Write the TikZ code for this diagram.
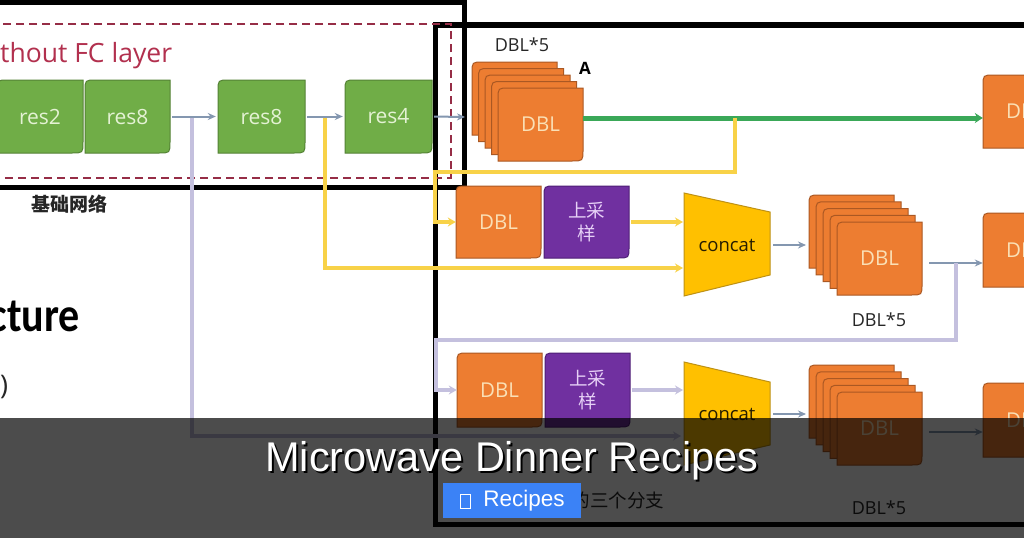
\documentclass[tikz,border=0pt]{standalone}
\usepackage{fontspec}
\usepackage{graphicx}
\setmainfont{Open Sans}
\newfontfamily\cjk{Noto Sans CJK SC}
\newfontfamily\arialf{Liberation Sans}
\newfontfamily\carlito{Carlito}
\usetikzlibrary{arrows.meta}
\definecolor{gfill}{RGB}{112,173,71}
\definecolor{gdraw}{RGB}{84,130,53}
\definecolor{gtext}{RGB}{228,242,212}
\definecolor{ofill}{RGB}{237,125,49}
\definecolor{odraw}{RGB}{170,88,35}
\definecolor{otext}{RGB}{250,224,182}
\definecolor{pfill}{RGB}{112,48,160}
\definecolor{pdraw}{RGB}{78,30,118}
\definecolor{ptext}{RGB}{230,208,246}
\definecolor{yfill}{RGB}{255,192,0}
\definecolor{ydraw}{RGB}{190,145,20}
\definecolor{yline}{RGB}{248,210,72}
\definecolor{lavc}{RGB}{196,192,222}
\definecolor{grayc}{RGB}{132,151,176}
\definecolor{grnc}{RGB}{58,168,88}
\definecolor{marc}{RGB}{150,45,70}
\definecolor{redt}{RGB}{178,48,78}
\definecolor{btnc}{RGB}{59,130,246}
\newcommand{\dshape}[5]{%
  \path[#5] (#1,#4) -- (#1,#2+11) .. controls (#1,#2) .. (#1+11,#2) -- (#3,#2) -- (#3,#4-11) .. controls (#3,#4) .. (#3-11,#4) -- cycle;}
\newcommand{\dblock}[8]{%
  \dshape{#2}{#3}{#4}{#5}{#6}
  \node[#7, minimum width={(#4-#2)*1pt}, minimum height={(#5-#3)*1pt}, inner sep=0pt] (#1) at ({(#2+#4)/2},{(#3+#5)/2}) {#8};}
\tikzset{
  gbox/.style={fill=gfill, draw=gdraw, line width=1pt},
  obox/.style={fill=ofill, draw=odraw, line width=1pt},
  pbox/.style={fill=pfill, draw=pdraw, line width=1pt},
  cbox/.style={fill=yfill, draw=ydraw, line width=1pt},
  gtxt/.style={text=gtext, font=\fontsize{21}{24}\selectfont},
  otxt/.style={text=otext, font=\fontsize{20.5}{24}\selectfont},
  ptxt/.style={text=ptext, font=\cjk\fontsize{18.5}{23}\selectfont, align=center},
  ctxt/.style={text=black!85!yfill, font=\fontsize{18.5}{22}\selectfont},
  lbl/.style={text=black!85, font=\fontsize{18}{22}\selectfont},
  garr/.style={draw=grayc, line width=2pt, -{Stealth[length=8pt,width=7pt]}},
  yarr/.style={draw=yline, line width=4.5pt, -{Stealth[length=8pt,width=9pt]}},
  larr/.style={draw=lavc, line width=4.5pt, -{Stealth[length=8pt,width=9pt]}},
  grarr/.style={draw=grnc, line width=5pt, -{Stealth[length=8pt,width=10pt]}},
  frame/.style={draw=black, line width=5.5pt},
}
\begin{document}
\begin{tikzpicture}[x=1pt,y=-1pt]
\useasboundingbox (0,0) rectangle (1024,538);
\clip (0,0) rectangle (1024,538);
\fill[white] (0,0) rectangle (1024,538);
% frames
\draw[frame] (-10,2.5) rectangle (464.5,187.5);
\draw[frame] (435.5,25) rectangle (1040,524.5);
\draw[marc, line width=1.8pt, dash pattern=on 8pt off 5pt] (-10,24) rectangle (451,178);
% left texts
\node[anchor=base west, text=redt, font=\fontsize{26.5}{30}\selectfont, inner sep=0pt] (fctxt) at (0,62) {thout FC layer};
\node[font=\cjk\bfseries\fontsize{19}{22}\selectfont, text=black!85] (jichu) at (69,204) {基础网络};
\node[anchor=base east, font=\carlito\bfseries\fontsize{42}{48}\selectfont, inner sep=0pt] (cture) at (80,331) {\scalebox{1}[1.15]{cture}};
\node[anchor=base west, font=\fontsize{27}{30}\selectfont, inner sep=0pt, text=black!85] (paren) at (0,394) {)};
% backbone
\dblock{res2}{-3}{80}{83}{153}{gbox}{gtxt}{res2}
\dblock{res8a}{85}{80}{170}{153}{gbox}{gtxt}{res8}
\dblock{res8b}{218}{80}{305}{153}{gbox}{gtxt}{res8}
\dblock{res4}{345}{80}{432}{153}{gbox}{gtxt}{res4}
% top stack
\foreach \i in {4,3,2,1} {\dshape{498-6.5*\i}{88-6.5*\i}{583-6.5*\i}{161-6.5*\i}{obox}}
\dblock{dbl1}{498}{88}{583}{161}{obox}{otxt}{DBL}
\node[lbl] (lab1) at (522,45) {DBL*5};
\node[font=\bfseries\fontsize{17}{20}\selectfont] (labA) at (585,68) {A};
% right boxes
\dblock{rbt}{983}{75}{1068}{148}{obox}{otxt}{DBL}
\dblock{rbm}{983}{213}{1068}{287}{obox}{otxt}{DBL}
\dblock{rbb}{983}{383}{1068}{457}{obox}{otxt}{DBL}
% middle row
\dblock{dblm}{456}{186}{541}{258}{obox}{otxt}{DBL}
\dblock{upm}{544}{186}{629}{258}{pbox}{ptxt}{上采\\样}
\path[cbox] (684,193) -- (770,212) -- (770,275) -- (684,296) -- cycle;
\node[ctxt, minimum width=86pt, minimum height=63pt, inner sep=0pt] (cc1) at (727,245) {concat};
\foreach \i in {4,3,2,1} {\dshape{837-7*\i}{222-6.75*\i}{922-7*\i}{295-6.75*\i}{obox}}
\dblock{dbl2}{837}{222}{922}{295}{obox}{otxt}{DBL}
\node[lbl] (lab2) at (879,320) {DBL*5};
% bottom row
\dblock{dblb}{457}{353}{542}{427}{obox}{otxt}{DBL}
\dblock{upb}{545}{353}{630}{427}{pbox}{ptxt}{上采\\样}
\path[cbox] (684,362) -- (770,382) -- (770,445) -- (684,465) -- cycle;
\node[ctxt, minimum width=86pt, minimum height=63pt, inner sep=0pt] (cc2) at (727,414) {concat};
\foreach \i in {4,3,2,1} {\dshape{837-7*\i}{392-6.75*\i}{922-7*\i}{465-6.75*\i}{obox}}
\dblock{dbl3}{837}{392}{922}{465}{obox}{otxt}{DBL}
\node[lbl] (lab3) at (879,508) {DBL*5};
\node[anchor=east, font=\cjk\fontsize{18.5}{22}\selectfont, text=black!85] (branch) at (668,500) {的三个分支};
% coordinates
\coordinate (lv1) at (192,117);
\coordinate (y2s) at (325,117);
\coordinate (s1in) at (465,117);
\coordinate (g1) at (583,118);
\coordinate (y1s) at (735,118);
\coordinate (yk1) at (435,172);
\coordinate (cc1a) at (683,222);
\coordinate (cc1b) at (683,268);
\coordinate (s2in) at (806,245);
\coordinate (s2out) at (929,263);
\coordinate (lv2) at (956,263);
\coordinate (lk2) at (436,340);
\coordinate (cc2a) at (683,390);
\coordinate (cc2b) at (681,436);
\coordinate (s3in) at (806,414);
\coordinate (s3out) at (929,432);
% connectors
\draw[larr] (lv1) |- (cc2b);
\draw[yarr] (y2s) |- (cc1b);
\draw[garr, shorten <=2pt, shorten >=2pt] (res8a) -- (res8b);
\draw[garr, shorten <=2pt, shorten >=2pt] (res8b) -- (res4);
\draw[garr, shorten <=2pt] (res4.east) -- (s1in);
\draw[grarr] (g1) -- (g1 -| rbt.west);
\draw[yarr] (y1s) |- (yk1) |- (dblm.west);
\draw[yarr, shorten <=2pt] (upm.east) -- (cc1a);
\draw[garr, shorten <=3pt] (cc1.east) -- (s2in);
\draw[garr] (s2out) -- (s2out -| rbm.west);
\draw[larr] (lv2) |- (lk2) |- (dblb.west);
\draw[larr, shorten <=2pt] (upb.east) -- (cc2a);
\draw[garr, shorten <=3pt] (cc2.east) -- (s3in);
\draw[garr] (s3out) -- (s3out -| rbb.west);
% overlay band
\fill[black, opacity=0.7] (0,418) rectangle (1024,538);
\node[text=black, font=\arialf\fontsize{41.5}{48}\selectfont] (titlesh) at (514,463) {Microwave Dinner Recipes};
\node[text=white, font=\arialf\fontsize{41.5}{48}\selectfont] (title) at (512,461) {Microwave Dinner Recipes};
\node[fill=btnc, minimum width=138pt, minimum height=35pt, inner sep=0pt] (btn) at (512,500.5) {};
\node[text=white, font=\arialf\fontsize{22.5}{26}\selectfont] (btntxt) at (524,501) {Recipes};
\draw[white, line width=0.8pt] (460.5,494) rectangle (470.5,508);
\end{tikzpicture}
\end{document}
